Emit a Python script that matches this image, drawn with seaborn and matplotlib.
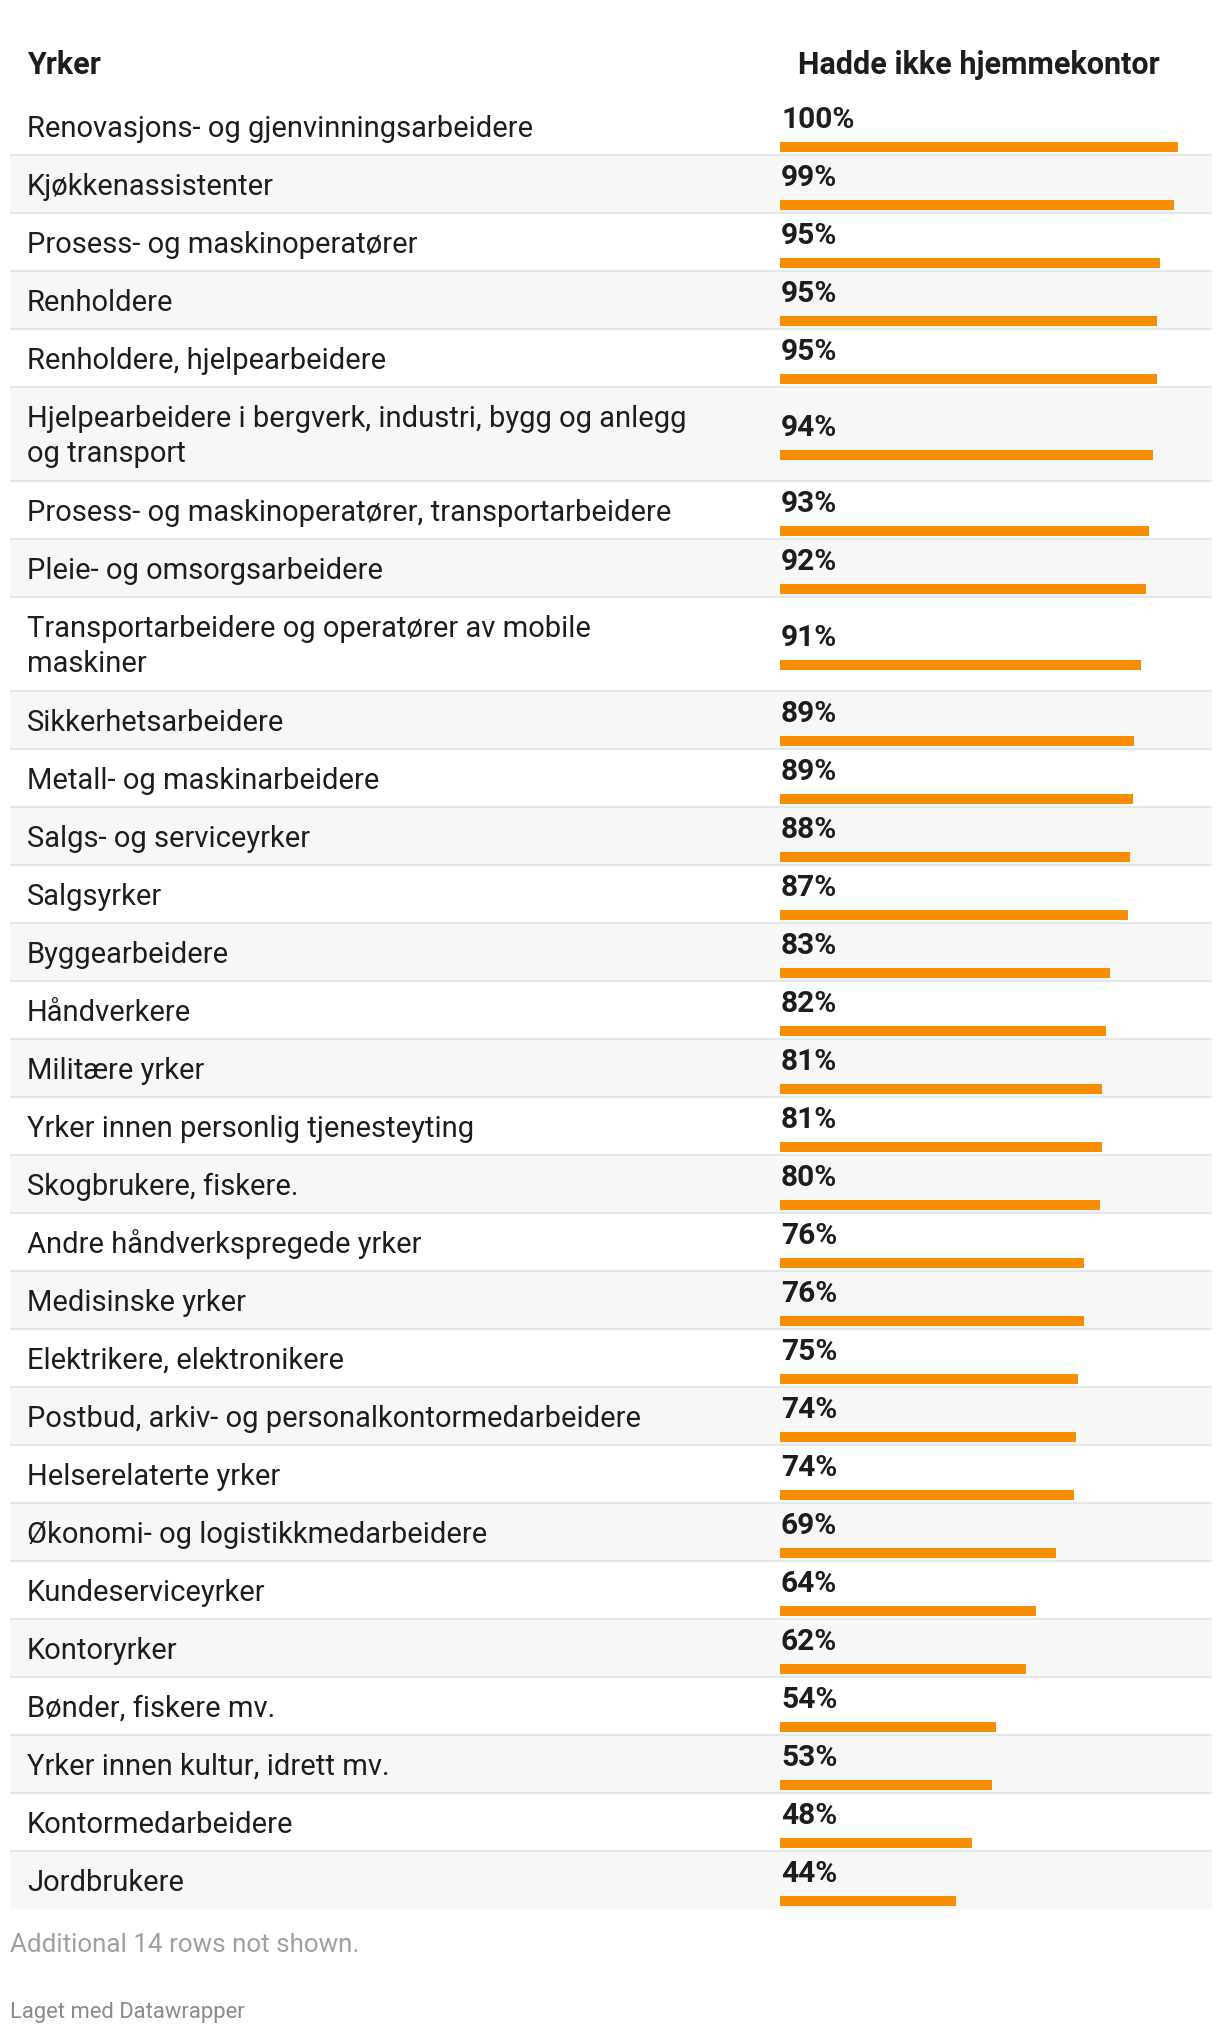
import numpy as np
import pandas as pd
import seaborn as sns
import matplotlib.pyplot as plt
from matplotlib.patches import Rectangle

# Data: occupation and share without home office (%)
yrker = [
    "Renovasjons- og gjenvinningsarbeidere",
    "Kjøkkenassistenter",
    "Prosess- og maskinoperatører",
    "Renholdere",
    "Renholdere, hjelpearbeidere",
    "Hjelpearbeidere i bergverk, industri, bygg og anlegg\nog transport",
    "Prosess- og maskinoperatører, transportarbeidere",
    "Pleie- og omsorgsarbeidere",
    "Transportarbeidere og operatører av mobile\nmaskiner",
    "Sikkerhetsarbeidere",
    "Metall- og maskinarbeidere",
    "Salgs- og serviceyrker",
    "Salgsyrker",
    "Byggearbeidere",
    "Håndverkere",
    "Militære yrker",
    "Yrker innen personlig tjenesteyting",
    "Skogbrukere, fiskere.",
    "Andre håndverkspregede yrker",
    "Medisinske yrker",
    "Elektrikere, elektronikere",
    "Postbud, arkiv- og personalkontormedarbeidere",
    "Helserelaterte yrker",
    "Økonomi- og logistikkmedarbeidere",
    "Kundeserviceyrker",
    "Kontoryrker",
    "Bønder, fiskere mv.",
    "Yrker innen kultur, idrett mv.",
    "Kontormedarbeidere",
    "Jordbrukere",
]
hjemmekontor = [
    100.0, 99.0, 95.4, 94.6, 94.6, 93.6, 92.6, 92.0, 90.6, 88.9,
    88.6, 88.0, 87.4, 82.9, 81.9, 80.9, 80.9, 80.4, 76.4, 76.4,
    74.9, 74.4, 73.9, 69.3, 64.3, 61.8, 54.3, 53.3, 48.2, 44.2,
]
col_header = ["Yrker", "Hadde ikke hjemmekontor"]
note = "Additional 14 rows not shown."
credit = "Laget med Datawrapper"

W, H = 1220, 2034
sns.set_theme(style="white")
plt.rcParams["font.family"] = ["Roboto", "DejaVu Sans"]

ink = "#1d1d1d"
orange = "#f98c00"

fig = plt.figure(figsize=(W / 100, H / 100), dpi=100)
bg = fig.add_axes([0, 0, 1, 1])
bg.set_xlim(0, W)
bg.set_ylim(H, 0)
bg.axis("off")

# row layout (pixels)
top = 96.6
rows = []
for lab in yrker:
    n = lab.count("\n") + 1
    h = 58 + 36 * (n - 1)
    rows.append((top, h, n))
    top += h

centers = []
for i, (lab, (t, h, n)) in enumerate(zip(yrker, rows)):
    c = t + h / 2
    centers.append(c)
    if i % 2 == 1:
        bg.add_patch(Rectangle((10, t), 1202, h, facecolor="#f7f7f7", edgecolor="none", zorder=0))
    if i > 0:
        bg.plot([10, 1212], [t, t], color="#e6e6e6", lw=1.5, zorder=1, solid_capstyle="butt")
    for k, line in enumerate(lab.split("\n")):
        yb = c + 11 + 35 * (k - (n - 1) / 2)
        bg.text(27, yb, line, fontsize=21, color=ink, va="baseline", ha="left")
    bg.text(781, c + 2, f"{round(hjemmekontor[i])}%", fontsize=21.5, fontweight="bold",
            color=ink, va="baseline", ha="left")

# header
bg.text(27, 74, col_header[0], fontsize=22, fontweight="bold", color=ink, va="baseline")
bg.text(979, 74, col_header[1], fontsize=22, fontweight="bold", color=ink, va="baseline", ha="center")

# footer
bg.text(10, 1952, note, fontsize=18.7, color="#a0a0a0", va="baseline")
bg.text(10, 2018, credit, fontsize=15.8, color="#8a8a8a", va="baseline")

# bars: 0-100 % mapped to x 780..1178
ax = fig.add_axes([780 / W, 0, 398 / W, 1])
bar_y = np.array(centers) + 21
df = pd.DataFrame({"yrke": yrker, "andel": hjemmekontor, "pos": bar_y})
gap = np.diff(np.sort(bar_y)).min()
sns.barplot(data=df, x="andel", y="pos", orient="h", native_scale=True,
            color=orange, saturation=1, width=10 / gap, errorbar=None, ax=ax)
ax.set_xlim(0, 100)
ax.set_ylim(H, 0)
ax.set_facecolor("none")
ax.axis("off")
for p in ax.patches:
    p.set_linewidth(0)

fig.savefig("out.png", dpi=100, facecolor="white")
